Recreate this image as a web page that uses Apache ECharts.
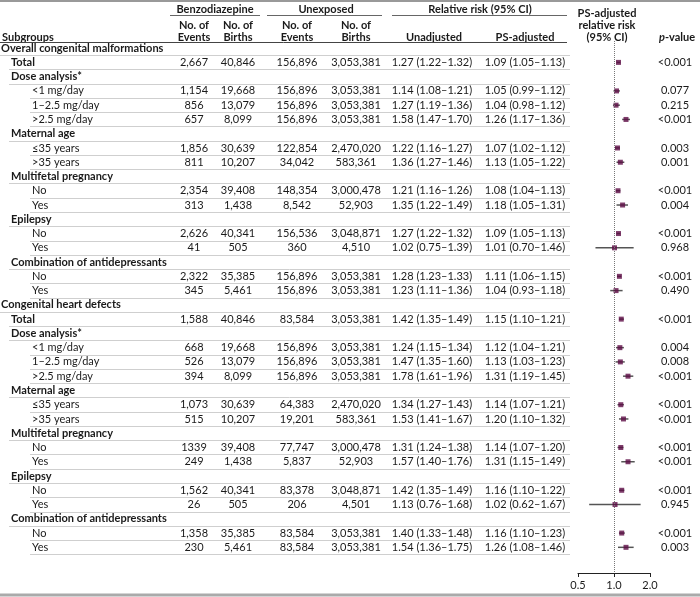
<!DOCTYPE html>
<html><head><meta charset="utf-8">
<script src="https://cdn.jsdelivr.net/npm/echarts/dist/echarts.min.js"></script>
<style>html,body{margin:0;padding:0;background:#fff}#c{width:700px;height:597px}</style>
</head><body><div id="c"></div>
<script>
// ---------------- DATA ----------------
const subgroups = [
  "Overall congenital malformations","Total","Dose analysis*","<1 mg/day","1–2.5 mg/day",">2.5 mg/day",
  "Maternal age","≤35 years",">35 years","Multifetal pregnancy","No","Yes","Epilepsy","No","Yes",
  "Combination of antidepressants","No","Yes",
  "Congenital heart defects","Total","Dose analysis*","<1 mg/day","1–2.5 mg/day",">2.5 mg/day",
  "Maternal age","≤35 years",">35 years","Multifetal pregnancy","No","Yes","Epilepsy","No","Yes",
  "Combination of antidepressants","No","Yes"
];
const levels = [0,1,1,2,2,2,1,2,2,1,2,2,1,2,2,1,2,2, 0,1,1,2,2,2,1,2,2,1,2,2,1,2,2,1,2,2];
const N = null;
const benzoEvents = [N,"2,667",N,"1,154","856","657",N,"1,856","811",N,"2,354","313",N,"2,626","41",N,"2,322","345",
  N,"1,588",N,"668","526","394",N,"1,073","515",N,"1339","249",N,"1,562","26",N,"1,358","230"];
const benzoBirths = [N,"40,846",N,"19,668","13,079","8,099",N,"30,639","10,207",N,"39,408","1,438",N,"40,341","505",N,"35,385","5,461",
  N,"40,846",N,"19,668","13,079","8,099",N,"30,639","10,207",N,"39,408","1,438",N,"40,341","505",N,"35,385","5,461"];
const unexpEvents = [N,"156,896",N,"156,896","156,896","156,896",N,"122,854","34,042",N,"148,354","8,542",N,"156,536","360",N,"156,896","156,896",
  N,"83,584",N,"156,896","156,896","156,896",N,"64,383","19,201",N,"77,747","5,837",N,"83,378","206",N,"83,584","83,584"];
const unexpBirths = [N,"3,053,381",N,"3,053,381","3,053,381","3,053,381",N,"2,470,020","583,361",N,"3,000,478","52,903",N,"3,048,871","4,510",N,"3,053,381","3,053,381",
  N,"3,053,381",N,"3,053,381","3,053,381","3,053,381",N,"2,470,020","583,361",N,"3,000,478","52,903",N,"3,048,871","4,501",N,"3,053,381","3,053,381"];
const unadjRR = [N,1.27,N,1.14,1.27,1.58,N,1.22,1.36,N,1.21,1.35,N,1.27,1.02,N,1.28,1.23, N,1.42,N,1.24,1.47,1.78,N,1.34,1.53,N,1.31,1.57,N,1.42,1.13,N,1.40,1.54];
const unadjLo = [N,1.22,N,1.08,1.19,1.47,N,1.16,1.27,N,1.16,1.22,N,1.22,0.75,N,1.23,1.11, N,1.35,N,1.15,1.35,1.61,N,1.27,1.41,N,1.24,1.40,N,1.35,0.76,N,1.33,1.36];
const unadjHi = [N,1.32,N,1.21,1.36,1.70,N,1.27,1.46,N,1.26,1.49,N,1.32,1.39,N,1.33,1.36, N,1.49,N,1.34,1.60,1.96,N,1.43,1.67,N,1.38,1.76,N,1.49,1.68,N,1.48,1.75];
const psRR = [N,1.09,N,1.05,1.04,1.26,N,1.07,1.13,N,1.08,1.18,N,1.09,1.01,N,1.11,1.04, N,1.15,N,1.12,1.13,1.31,N,1.14,1.20,N,1.14,1.31,N,1.16,1.02,N,1.16,1.26];
const psLo = [N,1.05,N,0.99,0.98,1.17,N,1.02,1.05,N,1.04,1.05,N,1.05,0.70,N,1.06,0.93, N,1.10,N,1.04,1.03,1.19,N,1.07,1.10,N,1.07,1.15,N,1.10,0.62,N,1.10,1.08];
const psHi = [N,1.13,N,1.12,1.12,1.36,N,1.12,1.22,N,1.13,1.31,N,1.13,1.46,N,1.15,1.18, N,1.21,N,1.21,1.23,1.45,N,1.21,1.32,N,1.20,1.49,N,1.22,1.67,N,1.23,1.46];
const pValues = [N,"<0.001",N,"0.077","0.215","<0.001",N,"0.003","0.001",N,"<0.001","0.004",N,"<0.001","0.968",N,"<0.001","0.490",
  N,"<0.001",N,"0.004","0.008","<0.001",N,"<0.001","<0.001",N,"<0.001","<0.001",N,"<0.001","0.945",N,"<0.001","0.003"];
const axisTicks = [0.5, 1.0, 2.0];

// ---------------- STYLE ----------------
const FONT = 'Lato, "Open Sans", sans-serif';
const FS = 11;
const TXT = '#1a1a1a';
const LABEL_X = [1, 11, 32];
const COL = {be:194, bb:238, ue:297, ub:356, un:432, ps:525, p:675};
const LINE_END = 570;

const fmt = (r,l,h) => r.toFixed(2) + ' (' + l.toFixed(2) + '–' + h.toFixed(2) + ')';

function txt(x, y, s, align, bold, extra) {
  return Object.assign({type:'text', style:{x, y, text:s, fill:TXT, align:align||'left', verticalAlign:'middle',
    fontFamily:FONT, fontSize:FS, fontWeight: bold ? 'bold' : 'normal'}}, extra||{});
}

const chart = echarts.init(document.getElementById('c'), null, {renderer:'canvas'});

const ciData = [], ptData = [];
subgroups.forEach((s,i) => { if (psRR[i] != null) { ciData.push([psLo[i], psHi[i], i]); ptData.push([psRR[i], i]); } });

const header = [];
const hy1 = 9, hy2 = 25, hy3 = 37;
header.push(txt(2, hy3, 'Subgroups', 'left', true));
header.push(txt(215, hy1, 'Benzodiazepine', 'center', true));
header.push(txt(326, hy1, 'Unexposed', 'center', true));
header.push(txt(480, hy1, 'Relative risk (95% CI)', 'center', true));
[[COL.be,'Events'],[COL.bb,'Births'],[COL.ue,'Events'],[COL.ub,'Births']].forEach(([x,w]) => {
  header.push(txt(x, hy2, 'No. of', 'center', true));
  header.push(txt(x, hy3, w, 'center', true));
});
header.push(txt(434, hy3, 'Unadjusted', 'center', true));
header.push(txt(COL.ps, hy3, 'PS-adjusted', 'center', true));
header.push(txt(607, 13, 'PS-adjusted', 'center', true));
header.push(txt(607, hy2, 'relative risk', 'center', true));
header.push(txt(607, hy3, '(95% CI)', 'center', true));
header.push({type:'text', style:{x:677, y:hy3, align:'center', verticalAlign:'middle',
  text:'{i|p}{b|-value}', rich:{i:{fontFamily:FONT,fontSize:FS,fontWeight:'bold',fontStyle:'italic',fill:TXT},
  b:{fontFamily:FONT,fontSize:FS,fontWeight:'bold',fill:TXT}}}});
const hl = (x1,y,x2,c,w) => ({type:'line', shape:{x1,y1:y,x2,y2:y}, style:{stroke:c,lineWidth:w}});
header.push(hl(0,1,700,'#999',2));
header.push(hl(170,15.5,260,'#666',1));
header.push(hl(267,15.5,382,'#666',1));
header.push(hl(392,15.5,567,'#666',1));
header.push(hl(0,42.5,567,'#444',1));
header.push(hl(0,595,700,'#aaa',3));

const option = {
  animation:false,
  backgroundColor:'#fff',
  graphic: header,
  grid:{left:578, right:50, top:41, bottom:24, containLabel:false},
  xAxis:{type:'log', logBase:2, min:axisTicks[0], max:axisTicks[axisTicks.length-1],
    axisLine:{show:true, onZero:false, lineStyle:{color:'#222', width:1}},
    axisTick:{show:true, length:4, lineStyle:{color:'#222'}},
    axisLabel:{color:TXT, fontFamily:FONT, fontSize:FS, margin:7, formatter: v => Number(v).toFixed(1)},
    splitLine:{show:false}, minorTick:{show:false}},
  yAxis:{type:'value', inverse:true, min:-0.5, max:36.8, show:false},
  series:[
    { type:'custom', silent:true, clip:false, z:1,
      data: subgroups.map((s,i)=>[1,i]), encode:{x:0,y:1},
      renderItem:(params, api) => {
        const i = api.value(1);
        const y = api.coord([1,i])[1];
        const lv = levels[i];
        const ch = [];
        ch.push(txt(LABEL_X[lv], y, subgroups[i], 'left', lv<2));
        const ly = Math.round(y+7)+0.5;
        ch.push({type:'line', shape:{x1:Math.max(0,LABEL_X[lv]-2), y1:ly, x2:LINE_END, y2:ly}, style:{stroke:'#cfcfcf', lineWidth:1}});
        if (benzoEvents[i] != null) {
          ch.push(txt(COL.be, y, benzoEvents[i], 'center'));
          ch.push(txt(COL.bb, y, benzoBirths[i], 'center'));
          ch.push(txt(COL.ue, y, unexpEvents[i], 'center'));
          ch.push(txt(COL.ub, y, unexpBirths[i], 'center'));
          ch.push(txt(COL.un, y, fmt(unadjRR[i], unadjLo[i], unadjHi[i]), 'center'));
          ch.push(txt(COL.ps, y, fmt(psRR[i], psLo[i], psHi[i]), 'center'));
          ch.push(txt(COL.p, y, pValues[i], 'center'));
        }
        return {type:'group', children:ch};
      }
    },
    { type:'custom', silent:true, clip:false, z:2,
      data: ciData, encode:{x:[0,1], y:2},
      renderItem:(params, api) => {
        const a = api.coord([api.value(0), api.value(2)]);
        const b = api.coord([api.value(1), api.value(2)]);
        return {type:'line', shape:{x1:a[0], y1:a[1], x2:b[0], y2:b[1]}, style:{stroke:'#555', lineWidth:1.5}};
      },
      markLine:{silent:true, symbol:'none', label:{show:false},
        lineStyle:{type:'dotted', color:'#777', width:1}, data:[{xAxis:1}]}
    },
    { type:'scatter', silent:true, z:3, data: ptData, symbol:'rect', symbolSize:5,
      itemStyle:{color:'#5c0b45'} }
  ]
};
chart.setOption(option);
</script>
</body></html>
